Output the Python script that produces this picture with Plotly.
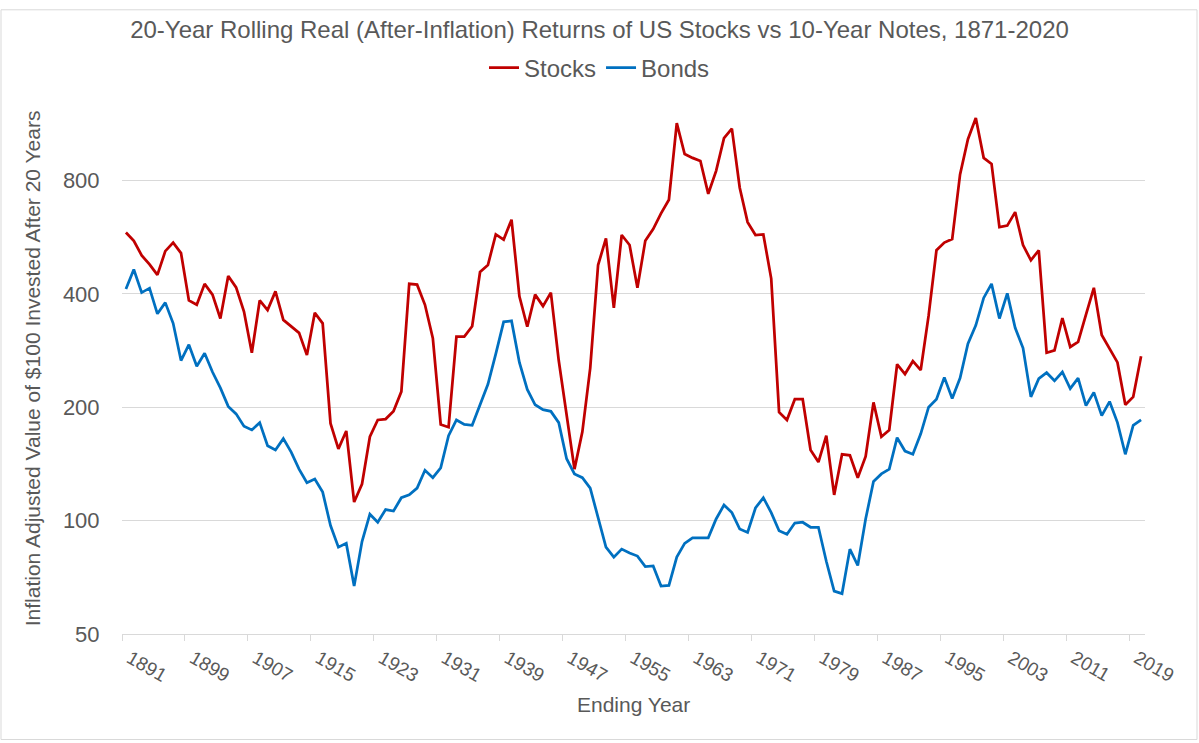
import math
import plotly.graph_objects as go

years = list(range(1891, 2021))

stocks = [
    582, 553, 506, 479, 449, 519, 547, 513, 384, 374,
    425, 398, 344, 446, 416, 359, 279, 384, 362, 406,
    341, 327, 315, 275, 356, 334, 181, 155, 173, 112,
    125, 167, 185, 186, 195, 220, 425, 423, 374, 305,
    180, 177, 308, 308, 328, 457, 477, 575, 557, 629,
    394, 327, 398, 371, 403, 266, 190, 137, 172, 254,
    477, 561, 367, 573, 539, 415, 553, 594, 654, 711,
    1135, 940, 918, 901, 737, 848, 1036, 1098, 765, 620,
    573, 575, 439, 194, 185, 210, 210, 154, 143, 168,
    117, 150, 149, 130, 148, 206, 167, 174, 260, 245,
    265, 251, 350, 522, 547, 559, 830, 1029, 1172, 918,
    885, 601, 607, 659, 539, 491, 522, 279, 283, 345,
    289, 298, 352, 415, 311, 286, 263, 203, 213, 273,
]

bonds = [
    412, 464, 403, 414, 354, 379, 334, 266, 293, 257,
    278, 248, 225, 201, 192, 178, 174, 182, 158, 154,
    165, 152, 137, 126, 129, 119, 97, 85, 87, 67,
    88, 104, 99, 107, 106, 115, 117, 122, 136, 130,
    138, 168, 185, 180, 179, 202, 230, 277, 337, 339,
    263, 223, 203, 197, 195, 182, 146, 133, 130, 122,
    101, 85, 80, 84, 82, 80.5, 75.5, 75.8, 67, 67.3,
    80, 87, 90, 90, 90, 101, 110, 105, 95, 93,
    108, 115, 105, 94, 92, 98.5, 99, 96, 96, 78,
    65, 64, 84, 76, 101, 127, 133, 137, 166, 153,
    150, 170, 200, 210, 240, 211, 239, 295, 330, 390,
    425, 344, 401, 325, 287, 213, 238, 247, 235, 248,
    224, 239, 202, 219, 190, 207, 182, 150, 179, 185,
]

x_tick_years = list(range(1891, 2020, 8))
x_tick_labels = [str(y) for y in x_tick_years]
y_tick_vals = [50, 100, 200, 400, 800]
y_tick_labels = ["50", "100", "200", "400", "800"]

title_text = "20-Year Rolling Real (After-Inflation) Returns of US Stocks vs 10-Year Notes, 1871-2020"
x_title = "Ending Year"
y_title = "Inflation Adjusted Value of $100 Invested After 20 Years"

FONT = "Liberation Sans, Arial, sans-serif"
TXT = "#595959"
GRID = "#d9d9d9"

W, H = 1199, 743
L, R, T, B = 122, 1145, 95, 634
pw, ph = R - L, B - T

fig = go.Figure()
fig.add_trace(go.Scatter(x=years, y=stocks, mode="lines", name="Stocks",
                         line=dict(color="#C00000", width=2.75)))
fig.add_trace(go.Scatter(x=years, y=bonds, mode="lines", name="Bonds",
                         line=dict(color="#0070C0", width=2.75)))

ytop = math.log10(50) + (B - T) / 115 * math.log10(2)

fig.update_layout(
    width=W, height=H,
    margin=dict(l=L, r=W - R, t=T, b=H - B, pad=0),
    paper_bgcolor="white", plot_bgcolor="white",
    font=dict(family=FONT, color=TXT),
    title=dict(text=title_text, x=0.5, xref="container", xanchor="center",
               y=1 - 30 / H, yref="container", yanchor="middle",
               font=dict(size=24, color=TXT, family=FONT)),
    legend=dict(orientation="h", x=0.5, xref="container", xanchor="center",
                y=1 - 68 / H, yref="container", yanchor="middle",
                font=dict(size=24, color=TXT, family=FONT),
                itemwidth=30, tracegroupgap=0),
    showlegend=True,
    xaxis=dict(
        range=[1890.5, 2020.5], tickmode="array", tickvals=x_tick_years,
        ticktext=x_tick_labels, ticks="", tickangle=30,
        ticklabelshift=4, ticklabelstandoff=5,
        tickfont=dict(size=19, color=TXT, family=FONT),
        showgrid=False, zeroline=False,
        showline=True, linecolor=GRID, linewidth=1,
        minor=dict(ticks="outside", tick0=1890.5, dtick=8, ticklen=6,
                   tickcolor=GRID, tickwidth=1, showgrid=False),
    ),
    yaxis=dict(
        type="log", range=[math.log10(50), ytop],
        tickmode="array", tickvals=y_tick_vals, ticktext=y_tick_labels,
        ticks="outside", ticklen=17, tickcolor="rgba(0,0,0,0)",
        tickfont=dict(size=22, color=TXT, family=FONT),
        showgrid=True, gridcolor=GRID, gridwidth=1,
        showline=False, zeroline=False,
    ),
    annotations=[
        dict(text=x_title, x=(633 - L) / pw, y=(B - 705) / ph, xref="paper", yref="paper",
             xanchor="center", yanchor="middle", showarrow=False,
             font=dict(size=21, color=TXT, family=FONT)),
        dict(text=y_title, x=(32 - L) / pw, y=0.5, xref="paper", yref="paper",
             xanchor="center", yanchor="middle", showarrow=False, textangle=-90,
             font=dict(size=21, color=TXT, family=FONT)),
    ],
    shapes=[
        dict(type="rect", xref="paper", yref="paper",
             x0=(1 - L) / pw, x1=(W - 2 - L) / pw,
             y0=(B - (H - 2)) / ph, y1=(B - 1) / ph,
             line=dict(color=GRID, width=1), fillcolor="rgba(0,0,0,0)", layer="below"),
    ],
)

fig.write_html("out.html", config={"displayModeBar": False},
               post_script="document.body.style.margin='0';document.body.style.overflow='hidden';")
